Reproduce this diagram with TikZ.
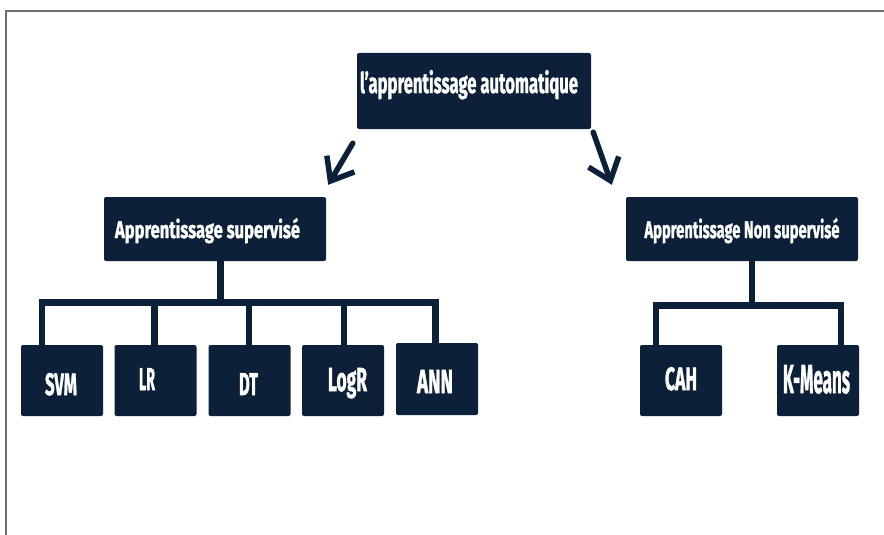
\documentclass[tikz,border=0pt]{standalone}
\usepackage{fontspec}
\setmainfont{Fira Sans}[BoldFeatures={FakeBold=1.6}]
\usetikzlibrary{arrows.meta,calc}
\definecolor{navy}{HTML}{0C2039}
\definecolor{framegray}{HTML}{707070}
% label squeezed to a given width and height
\newcommand{\fitlabel}[3]{\resizebox{#1}{#2}{\bfseries #3}}
\tikzset{
  catbox/.style={fill=navy, rounded corners=2pt, inner sep=0pt, text=white,
    minimum width=#1},
  topbox/.style={catbox=234pt, minimum height=76pt},
  midbox/.style={catbox=222pt, minimum height=64pt},
  leafbox/.style={catbox=82pt, minimum height=71pt},
  wire/.style={draw=navy, line width=6.5pt, line join=miter},
  pointer/.style={draw=navy, line width=5.5pt, line cap=round,
    -{Straight Barb[length=20pt,width=32pt]}},
}
\begin{document}
\begin{tikzpicture}[x=1pt,y=-1pt]
\useasboundingbox (0,0) rectangle (884,535);
% page frame
\draw[framegray, line width=1.5pt] (6,535) -- (6,11) -- (884,11);

% categories
\node[topbox, text height=23pt, text depth=19pt] (root) at (474,91)
  {\fitlabel{218pt}{23pt}{l'apprentissage automatique}\hspace*{10pt}};
\node[midbox, text height=20pt, text depth=2pt] (sup) at (215,229)
  {\fitlabel{185pt}{20pt}{Apprentissage supervisé}\hspace*{15pt}};
\node[midbox, minimum width=232pt, text height=20pt, text depth=2pt] (nonsup) at (742,229)
  {\fitlabel{195pt}{20pt}{Apprentissage Non supervisé}};

% algorithms
\node[leafbox, text height=29pt, text depth=0pt] (svm) at (62,380.5)
  {\fitlabel{32pt}{22pt}{SVM}\hspace*{2pt}};
\node[leafbox, text height=22pt, text depth=3pt] (lr) at (155.5,380.5)
  {\fitlabel{16pt}{22pt}{LR}\hspace*{17pt}};
\node[leafbox, text height=29pt, text depth=0pt] (dt) at (249.5,380.5)
  {\fitlabel{19pt}{22pt}{DT}\hspace*{2pt}};
\node[leafbox, text height=23pt, text depth=2pt] (logr) at (343,380.5)
  {\hspace*{9pt}\fitlabel{39pt}{23pt}{LogR}};
\node[leafbox, minimum height=72pt, text height=28pt, text depth=0pt] (ann) at (437,379)
  {\fitlabel{36pt}{23pt}{ANN}\hspace*{4pt}};
\node[leafbox, text height=23pt, text depth=4pt] (cah) at (681,380.5)
  {\fitlabel{32pt}{23pt}{CAH}};
\node[leafbox, text height=28pt, text depth=3pt] (kmeans) at (818,380.5)
  {\fitlabel{67pt}{28pt}{K-Means}\hspace*{3pt}};

% arrows from the root
\coordinate (lA) at ($(root.south west)+(-4,14)$);
\coordinate (lB) at ($(sup.north east)+(2,-12)$);
\coordinate (rA) at ($(root.south east)+(2,3)$);
\coordinate (rB) at ($(nonsup.north west)+(-14,-12)$);
\draw[pointer] (lA) -- (lB);
\draw[pointer] (rA) -- (rB);

% supervised branch
\coordinate (jl) at (220.5,302.5);
\coordinate (dsvm) at (42,302.5);
\coordinate (dlr) at (154.5,302.5);
\coordinate (ddt) at (249,302.5);
\coordinate (dlogr) at (344,302.5);
\coordinate (dann) at (435.5,302.5);
\draw[wire] (jl |- sup.south) -- (jl);
\draw[wire] (dsvm |- svm.north) -- (dsvm) -- (dann) -- (dann |- ann.north);
\draw[wire] (dlr) -- (dlr |- lr.north);
\draw[wire] (ddt) -- (ddt |- dt.north);
\draw[wire] (dlogr) -- (dlogr |- logr.north);

% unsupervised branch
\coordinate (jr) at (752,305.5);
\coordinate (dcah) at (656,305.5);
\coordinate (dkm) at (841,305.5);
\draw[wire] (jr |- nonsup.south) -- (jr);
\draw[wire] (dcah |- cah.north) -- (dcah) -- (dkm) -- (dkm |- kmeans.north);
\end{tikzpicture}
\end{document}
